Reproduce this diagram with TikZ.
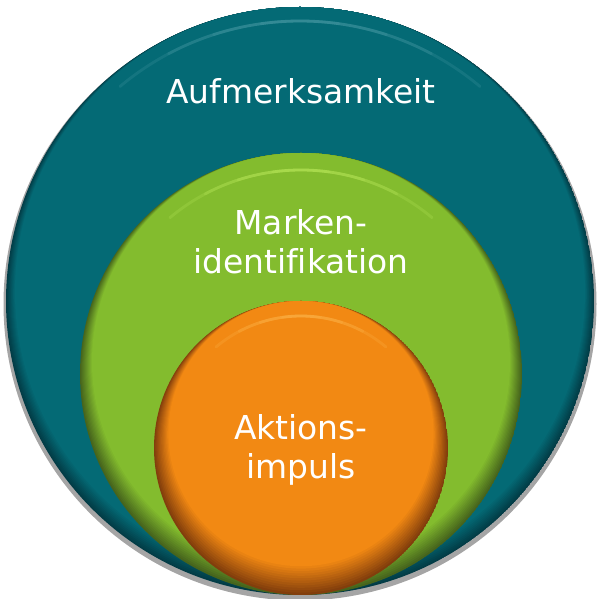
\documentclass[tikz,border=0pt]{standalone}
\usepackage{fontspec}
\setmainfont{DejaVu Sans}[Ligatures=NoCommon]

\definecolor{tealmain}{RGB}{4,106,117}
\definecolor{tealdark}{RGB}{2,60,70}
\definecolor{teallight}{RGB}{80,160,170}
\definecolor{greenmain}{RGB}{131,188,46}
\definecolor{greendark}{RGB}{70,100,28}
\definecolor{greenlight}{RGB}{190,235,95}
\definecolor{orangemain}{RGB}{242,137,19}
\definecolor{orangedark}{RGB}{130,62,12}
\definecolor{orangelight}{RGB}{255,185,80}
\definecolor{rimgray}{RGB}{165,165,165}

\begin{document}
\begin{tikzpicture}[x=0.025cm, y=0.025cm,
    disctext/.style={text=white, font=\fontsize{23.4}{27.7}\selectfont, align=center, inner sep=0pt},
    glint/.style={line width=2, line cap=round, opacity=0.22}]
        \useasboundingbox (0,0) rectangle (600,599);

        % Rim behind the outer disc
        \fill[rimgray] (300,295) circle (296.5);

        % Outer disc
        \begin{scope}
                \clip (300,298) circle (294);
                \foreach \k [evaluate=\k as \p using \k*10] in {0,...,10}
                        \fill[tealmain!\p!tealdark] (300,298+0.9*\k) circle (294-0.9*\k);
        \end{scope}
        \foreach \a in {8,18,28,40}
                \draw[glint, teallight] ([shift={(90-\a:280)}]300,298) arc[start angle=90-\a, end angle=90+\a, radius=280];

        % Middle disc
        \begin{scope}
                \clip (301,225) circle (221);
                \foreach \k [evaluate=\k as \p using \k*100/12] in {0,...,12}
                        \fill[greenmain!\p!greendark] (301,225+1.0*\k) circle (221-1.0*\k);
        \end{scope}
        \foreach \a in {8,18,28,40}
                \draw[glint, greenlight] ([shift={(90-\a:204)}]301,225) arc[start angle=90-\a, end angle=90+\a, radius=204];

        % Inner disc
        \begin{scope}
                \clip (301,151) circle (147);
                \foreach \k [evaluate=\k as \p using \k*100/12] in {0,...,12}
                        \fill[orangemain!\p!orangedark] (301,151+1.2*\k) circle (147-1.2*\k);
        \end{scope}
        \foreach \a in {8,18,28,40}
                \draw[glint, orangelight] ([shift={(90-\a:132)}]301,151) arc[start angle=90-\a, end angle=90+\a, radius=132];

        % Labels
        \node[disctext, anchor=base] (aufm) at (301,495) {Aufmerksamkeit};
        \node[disctext] (marken) at (301,357) {Marken-\\identifikation};
        \node[disctext] (aktion) at (301,149) {Aktions-\\impuls};
\end{tikzpicture}
\end{document}
